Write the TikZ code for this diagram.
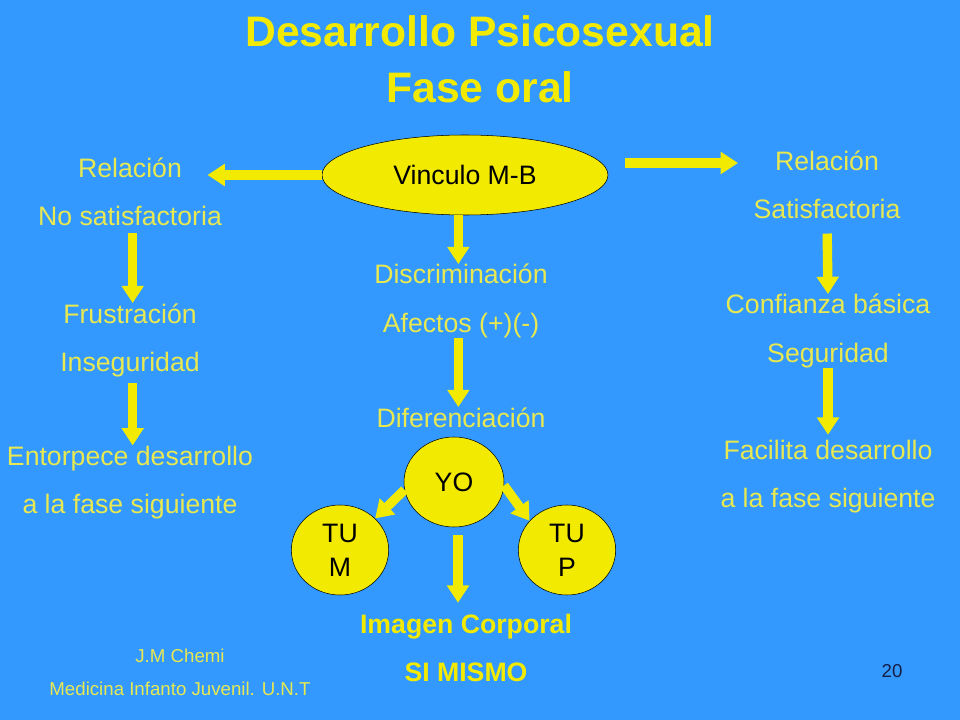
\documentclass[tikz,border=0pt]{standalone}
\usepackage{fontspec}
\setmainfont{Liberation Sans}
\usetikzlibrary{arrows.meta, shapes.geometric, positioning}
\definecolor{fondo}{RGB}{51,153,255}
\definecolor{amarillo}{RGB}{242,234,0}
\definecolor{letra}{RGB}{232,232,80}
\definecolor{marino}{RGB}{20,30,70}

\begin{document}
\begin{tikzpicture}[x=0.75pt, y=-0.75pt]
        % Define styles
        \tikzset{
            flecha/.style={-{Triangle[width=16pt,length=13pt]}, line width=7pt, draw=amarillo},
            texto/.style={font=\fontsize{20}{36}\selectfont, text=letra, align=center, inner sep=0pt, anchor=base},
            titulo/.style={font=\fontsize{32}{42}\selectfont\bfseries, text=amarillo, align=center, inner sep=0pt, anchor=base},
            burbuja/.style={ellipse, draw=black, thin, fill=amarillo, inner sep=0pt, align=center, font=\fontsize{20}{25.5}\selectfont}
        }
        % Background of the slide
        \useasboundingbox (0,0) rectangle (960,720);
        \fill[fondo] (0,0) rectangle (960,720);
        % Title (base = last line)
        \node[titulo] (titulo) at (480,103) {Desarrollo Psicosexual\\Fase oral};
        % Central bond
        \node[burbuja, minimum width=214.5pt, minimum height=60pt] (vinculo) at (465,175) {Vinculo M-B};
        % Left column: unsatisfying relation
        \node[texto] (nosat) at (130,226) {Relación\\No satisfactoria};
        \node[texto] (frus) at (130,371) {Frustración\\Inseguridad};
        \node[texto] (entor) at (130,513) {Entorpece desarrollo\\a la fase siguiente};
        % Right column: satisfying relation
        \node[texto] (sat) at (827,219) {Relación\\Satisfactoria};
        \node[texto] (conf) at (828,362) {Confianza básica\\Seguridad};
        \node[texto] (facil) at (828,507) {Facilita desarrollo\\a la fase siguiente};
        % Middle column
        \node[texto] (discr) at (461,332) {Discriminación\\Afectos (+)(-)};
        \node[texto] (difer) at (461,427) {Diferenciación};
        \node[burbuja, minimum width=75pt, minimum height=67.5pt] (yo) at (454,482) {YO};
        \node[burbuja, minimum width=73pt, minimum height=67.5pt] (tum) at (340,550) {TU\\M};
        \node[burbuja, minimum width=73pt, minimum height=67.5pt] (tup) at (567,550) {TU\\P};
        \node[texto, font=\fontsize{20}{36}\selectfont\bfseries, text=amarillo] (imagen) at (466,681) {Imagen Corporal\\SI MISMO};
        % Footer
        \node[texto, font=\fontsize{14}{24.75}\selectfont] (autor) at (180,695) {J.M Chemi\\Medicina Infanto Juvenil. U.N.T};
        \node[anchor=base, inner sep=0pt, font=\fontsize{14}{16}\selectfont, text=marino] (pagina) at (892,677) {20};
        % Arrows out of the bond
        \draw[flecha, shorten >=-11pt] (vinculo.west) -- (vinculo.west -| nosat.east);
        \path ([shift={(17,-12)}]vinculo.east) coordinate (dsal);
        \draw[flecha, shorten >=11.5pt] (dsal) -- (dsal -| sat.west);
        \draw[flecha] ([xshift=-5pt]vinculo.south) -- ([xshift=-5pt]vinculo.south |- discr.north);
        % Left chain
        \draw[flecha, shorten <=5pt] ([xshift=2pt]nosat.south) -- ([xshift=2pt]frus.north);
        \draw[flecha, shorten <=4.5pt] ([xshift=2pt]frus.south) -- ([xshift=2pt]entor.north);
        % Right chain
        \draw[flecha, shorten <=10.5pt] (sat.south) -- (conf.north);
        \draw[flecha, shorten >=3.5pt] (conf.south) -- (facil.north);
        % Middle chain
        \draw[flecha] ([xshift=-2pt]discr.south) -- ([xshift=-2pt]difer.north);
        \draw[flecha] (yo.189) -- (tum.42);
        \draw[flecha] (yo.356) -- (tup.142);
        \draw[flecha, shorten <=6pt, shorten >=8pt] ([xshift=3pt]yo.south) -- ([xshift=3pt]yo.south |- imagen.north);
\end{tikzpicture}
\end{document}
